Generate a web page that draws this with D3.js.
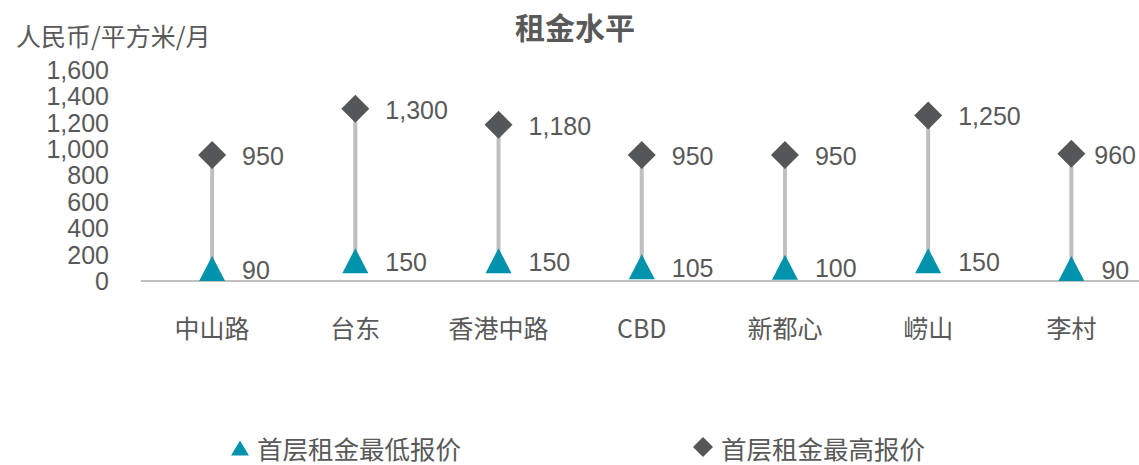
<!DOCTYPE html>
<html>
<head>
<meta charset="utf-8">
<script src="https://cdn.jsdelivr.net/npm/d3@7"></script>
<style>
  html, body { margin: 0; padding: 0; background: #fff; }
  svg { display: block; }
</style>
</head>
<body>
<svg id="chart" width="1139" height="465"></svg>
<script>
// Districts and ground-floor rent quotes (RMB / sqm / month)
const districts = ["中山路", "台东", "香港中路", "CBD", "新都心", "崂山", "李村"];
const lowRent = [90, 150, 150, 105, 100, 150, 90];
const highRent = [950, 1300, 1180, 950, 950, 1250, 960];
const yTicks = [0, 200, 400, 600, 800, 1000, 1200, 1400, 1600];
const seriesNames = ["首层租金最低报价", "首层租金最高报价"];

const W = 1139;
const TEXT = "#595959";
const TEAL = "#0093AB";
const DARK = "#53575A";
const GRID = "#BFBFBF";
const NUM_FONT = "'Liberation Sans', Arial, sans-serif";
const CJK_FONT = "'Noto Sans CJK SC', 'Noto Sans', sans-serif";

const svg = d3.select("#chart");

const x = d3.scaleBand().domain(districts).range([140.5, 1143]);
const y = d3.scaleLinear().domain([0, 1600]).range([280.5, 69.2]);
const cx = d => x(d) + x.bandwidth() / 2;
const fmt = d3.format(",");

// Title
svg.append("text")
  .attr("x", 575).attr("y", 26)
  .attr("text-anchor", "middle").attr("dominant-baseline", "central")
  .style("font-family", CJK_FONT).style("font-weight", "bold")
  .style("font-size", "30px").attr("fill", TEXT)
  .text("租金水平");

// Unit label
svg.append("text")
  .attr("x", 16).attr("y", 35)
  .attr("dominant-baseline", "central")
  .style("font-family", CJK_FONT).style("font-size", "25px").attr("fill", TEXT)
  .text("人民币/平方米/月");

// Y axis tick labels (no axis line)
const yAxis = d3.axisLeft(y).tickValues(yTicks).tickFormat(fmt).tickSize(0).tickPadding(0);
const yG = svg.append("g").attr("transform", "translate(109,0)").call(yAxis);
yG.select(".domain").remove();
yG.selectAll("text")
  .style("font-family", NUM_FONT).style("font-size", "25px").attr("fill", TEXT)
  .attr("dy", "0.36em");

// X axis baseline and category labels
const xAxis = d3.axisBottom(x).tickSize(0).tickPadding(0);
const xG = svg.append("g").attr("transform", `translate(0,${y(0)})`).call(xAxis);
xG.select(".domain").attr("stroke", GRID).attr("stroke-width", 2);
xG.selectAll("text")
  .attr("y", 46).attr("dy", "0")
  .attr("dominant-baseline", "central")
  .style("font-family", CJK_FONT).style("font-size", "25px").attr("fill", TEXT);

// Connector lines between low and high quotes
const data = districts.map((d, i) => ({ d, lo: lowRent[i], hi: highRent[i] }));
svg.append("g").selectAll("line").data(data).join("line")
  .attr("x1", r => cx(r.d)).attr("x2", r => cx(r.d))
  .attr("y1", r => y(r.hi)).attr("y2", r => y(r.lo))
  .attr("stroke", GRID).attr("stroke-width", 4);

// Marker shapes centred on their bounding box
const triPath = (w, h) => `M0,${-h / 2}L${w / 2},${h / 2}L${-w / 2},${h / 2}Z`;
const diaPath = (s) => `M0,${-s / 2}L${s / 2},0L0,${s / 2}L${-s / 2},0Z`;

svg.append("g").selectAll("path").data(data).join("path")
  .attr("d", diaPath(28))
  .attr("transform", r => `translate(${cx(r.d)},${y(r.hi)})`)
  .attr("fill", DARK);

svg.append("g").selectAll("path").data(data).join("path")
  .attr("d", triPath(26, 25))
  .attr("transform", r => `translate(${cx(r.d)},${y(r.lo)})`)
  .attr("fill", TEAL);

// Value labels sit to the right of each marker, pulled back inside the frame if needed
function placeLabels(sel) {
  sel.attr("dominant-baseline", "central")
    .style("font-family", NUM_FONT).style("font-size", "25px").attr("fill", TEXT)
    .attr("x", function (r) {
      const len = this.getComputedTextLength();
      return Math.min(cx(r.d) + 30, W - 3 - len);
    });
}

svg.append("g").selectAll("text").data(data).join("text")
  .attr("y", r => y(r.hi) + 1)
  .text(r => fmt(r.hi)).call(placeLabels);

svg.append("g").selectAll("text").data(data).join("text")
  .attr("y", r => y(r.lo) + 1)
  .text(r => fmt(r.lo)).call(placeLabels);

// Legend
const legend = svg.append("g");
legend.append("path").attr("d", triPath(18, 15))
  .attr("transform", "translate(240,448)").attr("fill", TEAL);
legend.append("path").attr("d", diaPath(20))
  .attr("transform", "translate(703,447)").attr("fill", DARK);
legend.selectAll("text").data(seriesNames).join("text")
  .attr("x", (d, i) => i === 0 ? 257 : 721).attr("y", 447)
  .attr("dominant-baseline", "central")
  .style("font-family", CJK_FONT).style("font-size", "25.5px").attr("fill", TEXT)
  .text(d => d);
</script>
</body>
</html>
